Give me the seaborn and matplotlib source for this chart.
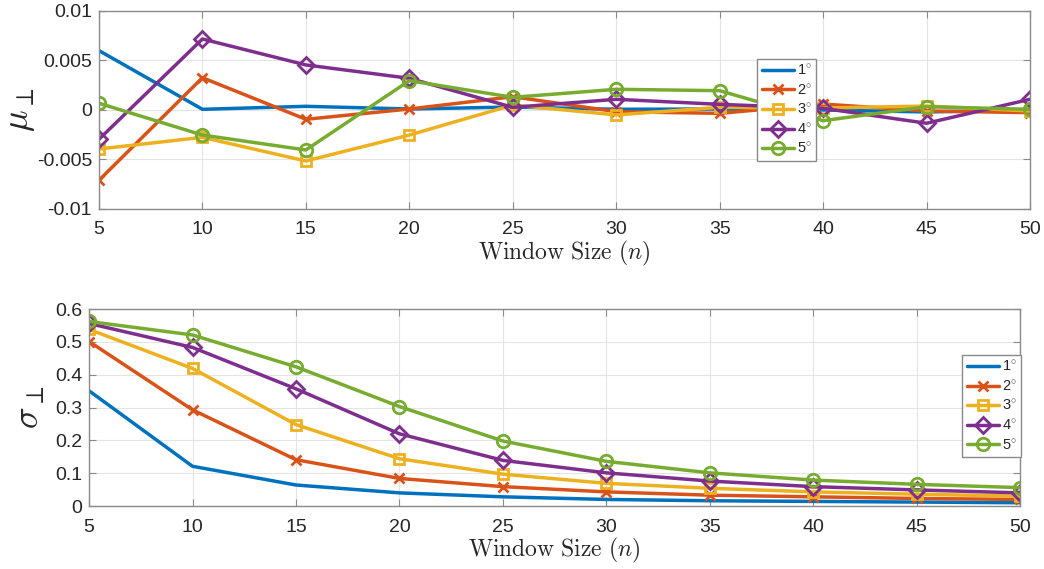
import numpy as np
import pandas as pd
import matplotlib
matplotlib.use("Agg")
import matplotlib.pyplot as plt
import seaborn as sns

window = [5, 10, 15, 20, 25, 30, 35, 40, 45, 50]
labels = [r"1$^{\circ}$", r"2$^{\circ}$", r"3$^{\circ}$", r"4$^{\circ}$", r"5$^{\circ}$"]

mu_1 = [0.0060, 0.00007, 0.00037, 0.0001, 0.0003, 0.00007, 0.0001, 0.0000, -0.0002, 0.0000]
mu_2 = [-0.0071, 0.00326, -0.00094, 0.0001, 0.00134, -0.00017, -0.00034, 0.0006, -0.0001, -0.00027]
mu_3 = [-0.00394, -0.00276, -0.00515, -0.00253, 0.0005, -0.0005, 0.00027, 0.0002, 0.0004, -0.0001]
mu_4 = [-0.00296, 0.00717, 0.00455, 0.0032, 0.00027, 0.00108, 0.00057, 0.00017, -0.00134, 0.00108]
mu_5 = [0.00068, -0.00253, -0.00404, 0.00296, 0.00128, 0.00209, 0.00195, -0.00108, 0.00033, 0.00007]

sig_1 = [0.351, 0.121, 0.064, 0.040, 0.028, 0.020, 0.016, 0.014, 0.012, 0.010]
sig_2 = [0.501, 0.293, 0.141, 0.084, 0.059, 0.043, 0.033, 0.028, 0.023, 0.020]
sig_3 = [0.538, 0.419, 0.248, 0.144, 0.097, 0.069, 0.054, 0.043, 0.036, 0.030]
sig_4 = [0.556, 0.483, 0.357, 0.220, 0.139, 0.101, 0.076, 0.059, 0.049, 0.040]
sig_5 = [0.562, 0.521, 0.424, 0.303, 0.198, 0.136, 0.101, 0.079, 0.066, 0.056]

colors = ["#0072BD", "#D95319", "#EDB120", "#7E2F8E", "#77AC30"]
markers = [None, "x", "s", "D", "o"]
msizes = [0, 7, 7, 8, 9]

sns.set_theme(style="white")
plt.rcParams["font.family"] = ["Liberation Sans", "DejaVu Sans"]
plt.rcParams["mathtext.fontset"] = "cm"

fig = plt.figure(figsize=(10.44, 5.69), dpi=100)
ax1 = fig.add_axes([0.0948, 0.6327, 0.8918, 0.348])
ax2 = fig.add_axes([0.0853, 0.1107, 0.8918, 0.3462])

def draw(ax, series):
    for vals, lab, c, m, ms in zip(series, labels, colors, markers, msizes):
        df = pd.DataFrame({"n": window, "v": vals})
        kw = dict(color=c, linewidth=2.5, label=lab)
        if m is not None:
            kw.update(marker=m, markersize=ms, markerfacecolor="none",
                      markeredgecolor=c, markeredgewidth=2.0)
        sns.lineplot(data=df, x="n", y="v", ax=ax, **kw)
    ax.set_xlim(5, 50)
    ax.set_xticks(window)
    ax.grid(True, color="#e4e4e4", linewidth=0.8)
    ax.set_axisbelow(True)
    for s in ax.spines.values():
        s.set_color("#8a8a8a")
        s.set_linewidth(1.0)
    ax.tick_params(direction="in", length=5, width=0.8, color="#8a8a8a",
                   labelsize=14, labelcolor="#262626", top=True, right=True,
                   bottom=True, left=True, pad=5)
    ax.tick_params(axis="x", pad=9)
    ax.set_xlabel(r"$\mathrm{Window\ Size\ }(n)$", fontsize=17, color="#262626", labelpad=0)

draw(ax1, [mu_1, mu_2, mu_3, mu_4, mu_5])
ax1.set_ylim(-0.01, 0.01)
ax1.set_yticks([-0.01, -0.005, 0, 0.005, 0.01])
ax1.set_yticklabels(["-0.01", "-0.005", "0", "0.005", "0.01"])
ax1.set_ylabel(r"$\mu_{\perp}$", fontsize=26, color="#262626", labelpad=0)

draw(ax2, [sig_1, sig_2, sig_3, sig_4, sig_5])
ax2.set_ylim(0, 0.6)
ax2.set_yticks([0, 0.1, 0.2, 0.3, 0.4, 0.5, 0.6])
ax2.set_yticklabels(["0", "0.1", "0.2", "0.3", "0.4", "0.5", "0.6"])
ax2.set_ylabel(r"$\sigma_{\perp}$", fontsize=26, color="#262626", labelpad=6)

for ax, anchor in [(ax1, (0.707, 0.757)), (ax2, (0.938, 0.765))]:
    leg = ax.legend(loc="upper left", bbox_to_anchor=anchor, fontsize=10.5,
                    frameon=True, fancybox=False, edgecolor="#8a8a8a",
                    handlelength=2.2, handletextpad=0.2, labelspacing=0.35,
                    borderpad=0.3, borderaxespad=0.0, framealpha=1.0)
    leg.get_frame().set_linewidth(1.0)

fig.savefig("out.png", dpi=100)
